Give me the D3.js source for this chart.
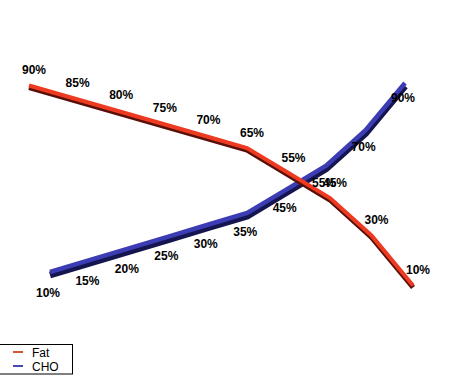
<!DOCTYPE html>
<html>
<head>
<meta charset="utf-8">
<script src="https://d3js.org/d3.v7.min.js"></script>
<style>
  body { margin: 0; background: #fff; }
  svg { display: block; font-family: "Liberation Sans", Arial, sans-serif; }
</style>
</head>
<body>
<script>
// Chart data
var steps = [1, 2, 3, 4, 5, 6, 7, 8, 9, 10];
var fatValues = [90, 85, 80, 75, 70, 65, 55, 45, 30, 10];
var choValues = [10, 15, 20, 25, 30, 35, 45, 55, 70, 90];
var seriesNames = ["Fat", "CHO"];

var svgWidth = 450;
var svgHeight = 375;

var svg = d3.select("body")
  .append("svg")
  .attr("width", svgWidth)
  .attr("height", svgHeight);

// the two series sit at different depths of the 3D plot, so each gets its own scales
var xFat = d3.scaleLinear().domain([1, 6, 10]).range([29, 247, 413]);
var yFat = d3.scaleLinear().domain([10, 90]).range([286, 86]);

var xCho = d3.scaleLinear().domain([1, 10]).range([50, 405]);
var yCho = d3.scaleLinear().domain([10, 90]).range([273, 84]);
// labels of CHO sit under the ribbon (baseline)
var yChoLabel = d3.scaleLinear().domain([10, 90]).range([297, 102]);

var fatData = steps.map((s, i) => ({ step: s, value: fatValues[i] }));
var choData = steps.map((s, i) => ({ step: s, value: choValues[i] }));

var fatLine = d3.line().x(d => xFat(d.step)).y(d => yFat(d.value));
var choLine = d3.line().x(d => xCho(d.step)).y(d => yCho(d.value));

// CHO ribbon (behind)
svg.append("path")
  .datum(choData)
  .attr("d", choLine)
  .attr("transform", "translate(0,2)")
  .attr("fill", "none")
  .attr("stroke", "#15154f")
  .attr("stroke-width", 7);

svg.append("path")
  .datum(choData)
  .attr("d", choLine)
  .attr("transform", "translate(0,-1)")
  .attr("fill", "none")
  .attr("stroke", "#3c3cb4")
  .attr("stroke-width", 4.5);

// Fat ribbon (front)
svg.append("path")
  .datum(fatData)
  .attr("d", fatLine)
  .attr("transform", "translate(0,1.5)")
  .attr("fill", "none")
  .attr("stroke", "#5a1008")
  .attr("stroke-width", 5);

svg.append("path")
  .datum(fatData)
  .attr("d", fatLine)
  .attr("transform", "translate(0,-0.5)")
  .attr("fill", "none")
  .attr("stroke", "#ee3a20")
  .attr("stroke-width", 4);

// value labels
svg.selectAll("text.fat")
  .data(fatData)
  .enter()
  .append("text")
  .attr("class", "fat")
  .attr("x", d => xFat(d.step) + 5)
  .attr("y", d => yFat(d.value) - 12)
  .attr("text-anchor", "middle")
  .attr("font-size", "12px")
  .attr("font-weight", "bold")
  .text(d => d.value + "%");

svg.selectAll("text.cho")
  .data(choData)
  .enter()
  .append("text")
  .attr("class", "cho")
  .attr("x", d => xCho(d.step) - 2)
  .attr("y", d => yChoLabel(d.value))
  .attr("text-anchor", "middle")
  .attr("font-size", "12px")
  .attr("font-weight", "bold")
  .text(d => d.value + "%");

// legend
var legendColors = ["#d2553a", "#4848b0"];
var legend = svg.append("g").attr("transform", "translate(0, 344)");

legend.append("rect")
  .attr("x", -1)
  .attr("y", 0.5)
  .attr("width", 73.5)
  .attr("height", 29.5)
  .attr("fill", "#fff")
  .attr("stroke", "#000");

var items = legend.selectAll("g.item")
  .data(seriesNames)
  .enter()
  .append("g")
  .attr("class", "item")
  .attr("transform", (d, i) => `translate(0, ${8 + i * 14})`);

items.append("line")
  .attr("x1", 13)
  .attr("x2", 23)
  .attr("y1", 0)
  .attr("y2", 0)
  .attr("stroke", (d, i) => legendColors[i])
  .attr("stroke-width", 2);

items.append("text")
  .attr("x", 32)
  .attr("y", 4.5)
  .attr("font-size", "12px")
  .text(d => d);
</script>
</body>
</html>
